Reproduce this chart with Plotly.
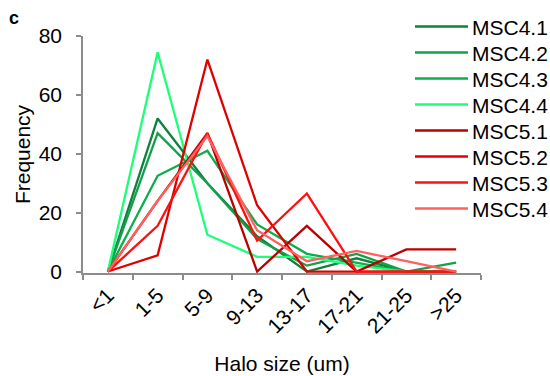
import plotly.graph_objects as go

# Halo size bins and per-sample frequency counts
bins = ["<1", "1-5", "5-9", "9-13", "13-17", "17-21", "21-25", ">25"]

msc4_1 = [0, 52, 30, 12, 0, 4.5, 0, 0]
msc4_2 = [0, 47, 30, 11, 2, 6, 0, 3]
msc4_3 = [0, 32.5, 41, 16, 6, 3, 0, 0]
msc4_4 = [0, 74.5, 12.5, 5, 5, 2, 0, 0]
msc5_1 = [0, 24, 47, 0, 15.5, 0, 7.5, 7.5]
msc5_2 = [0, 5.5, 72, 22.5, 0, 0, 0, 0]
msc5_3 = [0, 15.5, 47, 10.5, 26.5, 0, 0, 0]
msc5_4 = [0, 24, 46, 14, 3.5, 7, 3.5, 0]

names = ["MSC4.1", "MSC4.2", "MSC4.3", "MSC4.4",
         "MSC5.1", "MSC5.2", "MSC5.3", "MSC5.4"]
series = [msc4_1, msc4_2, msc4_3, msc4_4, msc5_1, msc5_2, msc5_3, msc5_4]
colors = ["#0b823e", "#14a04a", "#0cad4c", "#1cff78",
          "#bb0000", "#e00000", "#ff1010", "#ff6060"]

FONT = "Liberation Sans, Arial, sans-serif"
FS = 21
AXIS_GREY = "#8c8c8c"

# plot-area geometry in pixels (used to place the key in paper coords)
W, H = 550, 376
ML, MR, MT, MB = 83, 69, 36, 103
PW, PH = W - ML - MR, H - MT - MB


def px_to_paper(px, py):
    return (px - ML) / PW, (H - MB - py) / PH


fig = go.Figure()
for name, vals, col in zip(names, series, colors):
    fig.add_trace(go.Scatter(
        x=bins, y=vals, name=name, mode="lines",
        line=dict(color=col, width=2.3), showlegend=False,
    ))

# key: a short line swatch and label per sample, stacked top-right
shapes, annotations = [], []
for i, (name, col) in enumerate(zip(names, colors)):
    yy = 26.5 + 26 * i
    x0, y0 = px_to_paper(415, yy)
    x1, _ = px_to_paper(468, yy)
    shapes.append(dict(type="line", xref="paper", yref="paper",
                       x0=x0, x1=x1, y0=y0, y1=y0,
                       line=dict(color=col, width=2.5)))
    tx, ty = px_to_paper(470, yy + 1)
    annotations.append(dict(text=name, xref="paper", yref="paper",
                            x=tx, y=ty, xanchor="left", yanchor="middle",
                            showarrow=False, font=dict(size=FS, family=FONT)))

cx, cy = px_to_paper(7, 18)
annotations.append(dict(text="<b>c</b>", xref="paper", yref="paper",
                        x=cx, y=cy, xanchor="left", yanchor="middle",
                        showarrow=False, font=dict(size=18, family=FONT)))

fig.update_layout(
    width=W, height=H,
    margin=dict(l=ML, r=MR, t=MT, b=MB, autoexpand=False),
    paper_bgcolor="white", plot_bgcolor="white",
    font=dict(family=FONT, size=FS, color="black"),
    showlegend=False,
    shapes=shapes, annotations=annotations,
    xaxis=dict(
        type="category", categoryorder="array", categoryarray=bins,
        range=[-0.5, 7.5], tickson="boundaries", automargin=False,
        showline=True, linecolor=AXIS_GREY, linewidth=1.5,
        ticks="outside", ticklen=5, tickcolor=AXIS_GREY, tickwidth=1.5,
        tickangle=-45, showgrid=False, zeroline=False,
        tickfont=dict(size=FS),
        title=dict(text="Halo size (um)", font=dict(size=FS), standoff=20),
    ),
    yaxis=dict(
        range=[-0.5, 80], tickvals=[0, 20, 40, 60, 80], automargin=False,
        showline=True, linecolor=AXIS_GREY, linewidth=1.5,
        ticks="outside", ticklen=5, tickcolor=AXIS_GREY, tickwidth=1.5,
        showgrid=False, zeroline=False, ticklabelstandoff=10,
        tickfont=dict(size=FS),
        title=dict(text="Frequency", font=dict(size=FS), standoff=2),
    ),
)

fig.write_html("out.html")
